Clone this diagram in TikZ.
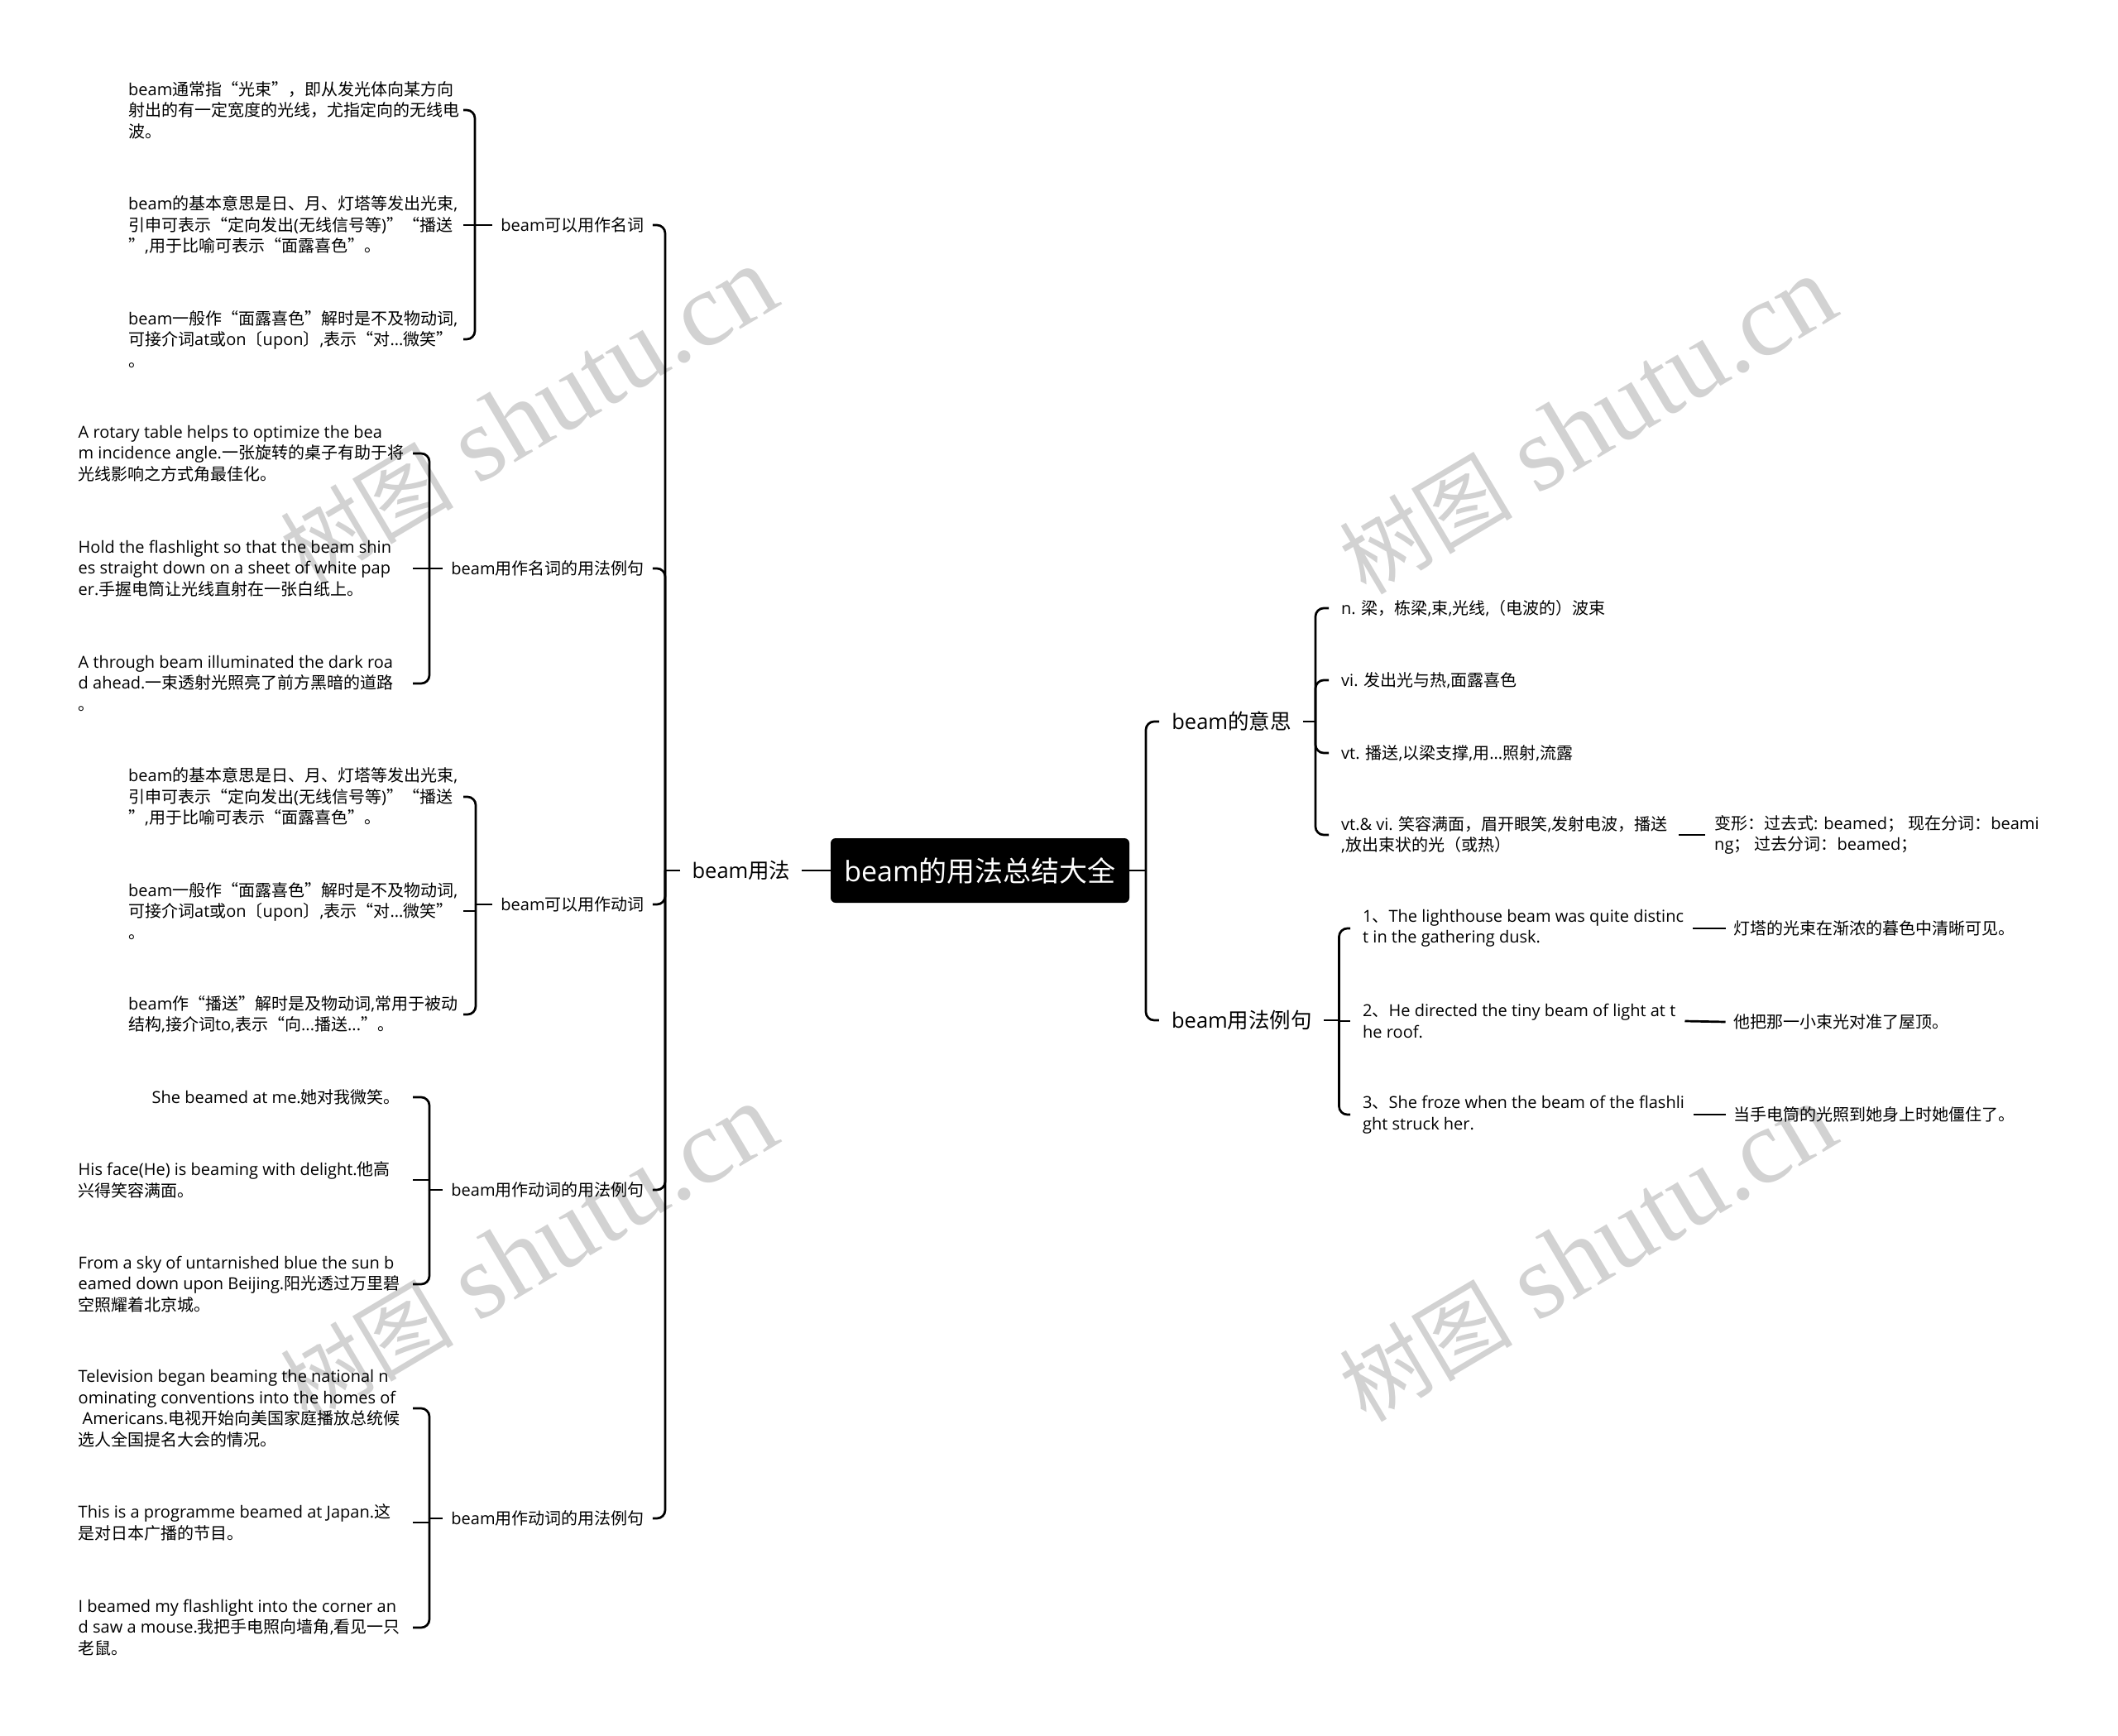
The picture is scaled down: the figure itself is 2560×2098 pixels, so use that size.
\documentclass[tikz,border=0pt]{standalone}
\usepackage{fontspec}
\setmainfont{Open Sans}
\newfontfamily\cjkf{Noto Sans CJK SC}
\newfontfamily\latf{Open Sans}
\newfontfamily\wmf{Liberation Serif}
\definecolor{wm}{HTML}{D2D2D2}
\chardef\CJKcls=9
\newcount\ccnt
\ccnt="4E00 \loop\XeTeXcharclass\ccnt=\CJKcls\advance\ccnt by 1\relax\ifnum\ccnt<"A000 \repeat
\ccnt="3000 \loop\XeTeXcharclass\ccnt=\CJKcls\advance\ccnt by 1\relax\ifnum\ccnt<"3040 \repeat
\ccnt="FF00 \loop\XeTeXcharclass\ccnt=\CJKcls\advance\ccnt by 1\relax\ifnum\ccnt<"FFF0 \repeat
\XeTeXcharclass "201C=\CJKcls
\XeTeXcharclass "201D=\CJKcls
\XeTeXinterchartoks 0 \CJKcls = {\cjkf}
\XeTeXinterchartoks 4095 \CJKcls = {\cjkf}
\XeTeXinterchartoks \CJKcls 0 = {\latf}
\XeTeXinterchartoks \CJKcls 4095 = {\latf}
\AtBeginDocument{\XeTeXinterchartokenstate=1}
\begin{document}
\begin{tikzpicture}[x=1pt,y=-1pt,
  conn/.style={line width=2.7pt, draw=black},
  rc/.style={rounded corners=10pt},
  txt/.style={font=\fontsize{20}{25.5}\selectfont, align=left, inner sep=0pt},
  lab2/.style={font=\fontsize{20}{25.5}\selectfont, inner sep=0pt},
  lab1/.style={font=\fontsize{25.5}{30}\selectfont, inner sep=0pt},
  rootbox/.style={fill=black, text=white, rounded corners=6pt, inner sep=0pt,
    minimum width=361pt, minimum height=78pt, font=\fontsize{34}{40}\selectfont},
  wmark/.style={text=wm, inner sep=0pt, rotate=30.7, anchor=base west}]
\fill[white] (0,0) rectangle (2560,2098);
\useasboundingbox (0,0) rectangle (2560,2098);

% watermarks
\node[wmark] (wm1) at (371,709) {{\fontsize{105}{120}\selectfont 树图}\hspace{30pt}{\fontsize{128}{140}\selectfont\wmf shutu.cn}};
\node[wmark] (wm2) at (1651,721) {{\fontsize{105}{120}\selectfont 树图}\hspace{30pt}{\fontsize{128}{140}\selectfont\wmf shutu.cn}};
\node[wmark] (wm3) at (371,1721) {{\fontsize{105}{120}\selectfont 树图}\hspace{30pt}{\fontsize{128}{140}\selectfont\wmf shutu.cn}};
\node[wmark] (wm4) at (1651,1721) {{\fontsize{105}{120}\selectfont 树图}\hspace{30pt}{\fontsize{128}{140}\selectfont\wmf shutu.cn}};

% root and level 1
\node[rootbox] (root) at (1184.5,1052) {beam的用法总结大全};
\node[lab1] (L) at (896,1052) {beam用法};
\node[lab1] (r1) at (1488.5,872) {beam的意思};
\node[lab1] (r2) at (1501,1233) {beam用法例句};

% junction coordinates
\coordinate (LT) at (804,1052);
\coordinate (RT) at (1385,1052);
\coordinate (B1) at (574,272);  \coordinate (S1) at (560,272);
\coordinate (B2) at (519,687);  \coordinate (S2) at (499,687);
\coordinate (B3) at (575,1093); \coordinate (S3) at (560,1093);
\coordinate (B4) at (519,1438); \coordinate (S4) at (499,1438);
\coordinate (B5) at (519,1835); \coordinate (S5) at (499,1835);
\coordinate (RB1) at (1590,872);   \coordinate (RS1) at (1606,872);
\coordinate (RB2) at (1618.5,1233); \coordinate (RS2) at (1632,1233);

% level 2 labels (left)
\node[lab2] (g1) at (692,272) {beam可以用作名词};
\node[lab2] (g2) at (662,687) {beam用作名词的用法例句};
\node[lab2] (g3) at (692,1093) {beam可以用作动词};
\node[lab2] (g4) at (662,1438) {beam用作动词的用法例句};
\node[lab2] (g5) at (662,1835) {beam用作动词的用法例句};

% group 1
\node[txt, anchor=west] (g1a) at (155,133) {beam通常指“光束”，即从发光体向某方向\\射出的有一定宽度的光线，尤指定向的无线电\\波。};
\node[txt, anchor=west] (g1b) at (155,272) {beam的基本意思是日、月、灯塔等发出光束,\\引申可表示“定向发出(无线信号等)”“播送\\”,用于比喻可表示“面露喜色”。};
\node[txt, anchor=west] (g1c) at (155,410) {beam一般作“面露喜色”解时是不及物动词,\\可接介词at或on〔upon〕,表示“对...微笑”\\。};
% group 2
\node[txt, anchor=west] (g2a) at (94.5,548) {A rotary table helps to optimize the bea\\m incidence angle.一张旋转的桌子有助于将\\光线影响之方式角最佳化。};
\node[txt, anchor=west] (g2b) at (94.5,687) {Hold the flashlight so that the beam shin\\es straight down on a sheet of white pap\\er.手握电筒让光线直射在一张白纸上。};
\node[txt, anchor=west] (g2c) at (94.5,826) {A through beam illuminated the dark roa\\d ahead.一束透射光照亮了前方黑暗的道路\\。};
% group 3
\node[txt, anchor=west] (g3a) at (155,963) {beam的基本意思是日、月、灯塔等发出光束,\\引申可表示“定向发出(无线信号等)”“播送\\”,用于比喻可表示“面露喜色”。};
\node[txt, anchor=west] (g3b) at (155,1101) {beam一般作“面露喜色”解时是不及物动词,\\可接介词at或on〔upon〕,表示“对...微笑”\\。};
\node[txt, anchor=west] (g3c) at (155,1226) {beam作“播送”解时是及物动词,常用于被动\\结构,接介词to,表示“向...播送...”。};
% group 4
\node[txt, anchor=east] (g4a) at (484,1326) {She beamed at me.她对我微笑。};
\node[txt, anchor=west] (g4b) at (94.5,1426) {His face(He) is beaming with delight.他高\\兴得笑容满面。};
\node[txt, anchor=west] (g4c) at (94.5,1552) {From a sky of untarnished blue the sun b\\eamed down upon Beijing.阳光透过万里碧\\空照耀着北京城。};
% group 5
\node[txt, anchor=west] (g5a) at (94.5,1702) {Television began beaming the national n\\ominating conventions into the homes of\\\hspace*{5pt}Americans.电视开始向美国家庭播放总统候\\选人全国提名大会的情况。};
\node[txt, anchor=west] (g5b) at (94.5,1840) {This is a programme beamed at Japan.这\\是对日本广播的节目。};
\node[txt, anchor=west] (g5c) at (94.5,1967) {I beamed my flashlight into the corner an\\d saw a mouse.我把手电照向墙角,看见一只\\老鼠。};

% right group 1
\node[txt, anchor=west] (r1a) at (1621,735) {n. 梁，栋梁,束,光线,（电波的）波束};
\node[txt, anchor=west] (r1b) at (1621,822) {vi. 发出光与热,面露喜色};
\node[txt, anchor=west] (r1c) at (1621,910) {vt. 播送,以梁支撑,用...照射,流露};
\node[txt, anchor=west] (r1d) at (1621,1009) {vt.\& vi. 笑容满面，眉开眼笑,发射电波，播送\\,放出束状的光（或热）};
\node[txt, anchor=west] (r1e) at (2072,1009) {变形：过去式: beamed； 现在分词：beami\\ng； 过去分词：beamed；};
% right group 2
\node[txt, anchor=west] (r2a) at (1647,1122) {1、The lighthouse beam was quite distinc\\t in the gathering dusk.};
\node[txt, anchor=west] (r2b) at (1647,1234) {2、He directed the tiny beam of light at t\\he roof.};
\node[txt, anchor=west] (r2c) at (1647,1347) {3、She froze when the beam of the flashli\\ght struck her.};
\node[txt, anchor=west] (t1) at (2095.5,1122) {灯塔的光束在渐浓的暮色中清晰可见。};
\node[txt, anchor=west] (t2) at (2095.5,1235) {他把那一小束光对准了屋顶。};
\node[txt, anchor=west] (t3) at (2095.5,1347) {当手电筒的光照到她身上时她僵住了。};

% ---- connectors: left ----
\draw[conn] (root.west) -- ([xshift=13pt]L.east);
\draw[conn] ([xshift=-14pt]L.west) -- (LT);
\draw[conn, rc] (LT) |- ([xshift=10pt]g1.east);
\draw[conn, rc] (LT) |- ([xshift=10pt]g2.east);
\draw[conn, rc] (LT) |- ([xshift=10pt]g3.east);
\draw[conn, rc] (LT) |- ([xshift=10pt]g4.east);
\draw[conn, rc] (LT) |- ([xshift=10pt]g5.east);

% group brackets
\draw[conn] ([xshift=-10pt]g1.west) -- (B1);
\draw[conn, rc] (B1) |- (S1 |- g1a.east);
\draw[conn] (B1 |- g1b.east) -- (S1 |- g1b.east);
\draw[conn, rc] (B1) |- (S1 |- g1c.east);

\draw[conn] ([xshift=-10pt]g2.west) -- (B2);
\draw[conn, rc] (B2) |- (S2 |- g2a.east);
\draw[conn] (B2 |- g2b.east) -- (S2 |- g2b.east);
\draw[conn, rc] (B2) |- (S2 |- g2c.east);

\draw[conn] ([xshift=-10pt]g3.west) -- (B3);
\draw[conn, rc] (B3) |- (S3 |- g3a.east);
\draw[conn] (B3 |- g3b.east) -- (S3 |- g3b.east);
\draw[conn, rc] (B3) |- (S3 |- g3c.east);

\draw[conn] ([xshift=-10pt]g4.west) -- (B4);
\draw[conn, rc] (B4) |- (S4 |- g4a.east);
\draw[conn] (B4 |- g4b.east) -- (S4 |- g4b.east);
\draw[conn, rc] (B4) |- (S4 |- g4c.east);

\draw[conn] ([xshift=-10pt]g5.west) -- (B5);
\draw[conn, rc] (B5) |- (S5 |- g5a.east);
\draw[conn] (B5 |- g5b.east) -- (S5 |- g5b.east);
\draw[conn, rc] (B5) |- (S5 |- g5c.east);

% ---- connectors: right ----
\draw[conn] (root.east) -- (RT);
\draw[conn, rc] (RT) |- ([xshift=-15pt]r1.west);
\draw[conn, rc] (RT) |- ([xshift=-15pt]r2.west);

\draw[conn] ([xshift=14pt]r1.east) -- (RB1);
\draw[conn, rc] (RB1) |- (RS1 |- r1a.west);
\draw[conn, rc] (RB1) |- (RS1 |- r1b.west);
\draw[conn, rc] (RB1) |- (RS1 |- r1c.west);
\draw[conn, rc] (RB1) |- (RS1 |- r1d.west);
\draw[conn] ([xshift=13pt]r1d.east) -- ([xshift=-11pt]r1e.west);

\draw[conn] ([xshift=14pt]r2.east) -- (RB2);
\draw[conn, rc] (RB2) |- (RS2 |- r2a.west);
\draw[conn] (RB2 |- r2b.west) -- (RS2 |- r2b.west);
\draw[conn, rc] (RB2) |- (RS2 |- r2c.west);
\draw[conn] ([xshift=11pt]r2a.east) -- ([xshift=-10pt]t1.west);
\draw[conn] ([xshift=11pt]r2b.east) -- ([xshift=-10pt]t2.west);
\draw[conn] ([xshift=11pt]r2c.east) -- ([xshift=-10pt]t3.west);
\end{tikzpicture}
\end{document}
